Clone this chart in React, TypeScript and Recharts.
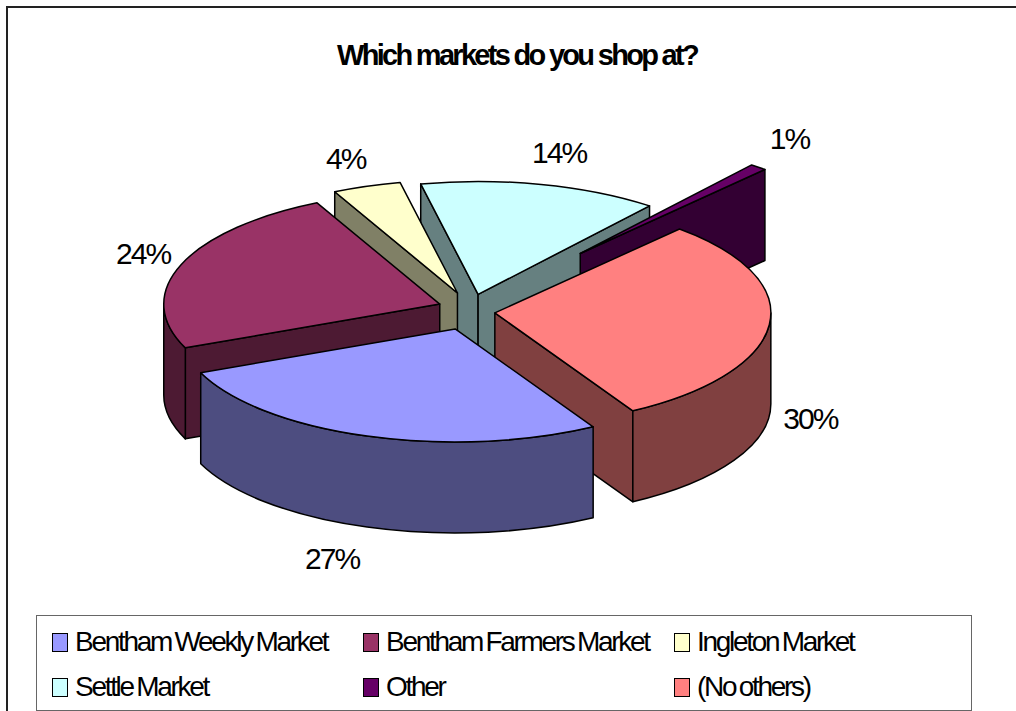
import { PieChart, Pie, Legend } from 'recharts';

const categories = ['Bentham Weekly Market', 'Bentham Farmers Market', 'Ingleton Market', 'Settle Market', 'Other', '(No others)'];
const shares = [27, 24, 4, 14, 1, 30];
const topColors = ['#9999ff', '#993366', '#ffffcc', '#ccffff', '#660066', '#ff8080'];
const wallColors = ['#4d4d80', '#4d1a33', '#808066', '#668080', '#330033', '#804040'];

// slices pulled out from the middle, along x and y of the tilted plane
const explodeX = [34, 28, 26, 53, 177, 29];
const explodeY = [20, 17, 18, 16, 74, 28];
// where each % label sits relative to the middle of its rim
const labelShiftX = [-35, -38, -21, 18, 31, 41];
const labelShiftY = [122, -11, -28, -32, -29, 94];
// back to front
const paintOrder = [3, 4, 2, 1, 5, 0];

const legendColumns = [0, 311, 622];
const FONT = '"Liberation Sans", Arial, sans-serif';

const RX = 276;
const RY = 113;
const DEPTH = 91;

const rows = categories.map((name, i) => ({ name, value: shares[i], fill: topColors[i] }));

const sliceShape = (only: number) => (props: any) => {
  const { cx, cy, startAngle, endAngle, midAngle, index, outerRadius } = props;
  if (index !== only) return <g />;
  const rx = outerRadius;
  const ry = (outerRadius * RY) / RX;
  const rad = (d: number) => (d * Math.PI) / 180;
  const s = -startAngle;
  const e = -endAngle;
  const m = -midAngle;
  const ax = cx + explodeX[index] * Math.cos(rad(m));
  const ay = cy + explodeY[index] * Math.sin(rad(m));
  const rim = (d: number, drop = 0) =>
    `${ax + rx * Math.cos(rad(d))} ${ay + ry * Math.sin(rad(d)) + drop}`;
  const arc = (from: number, to: number, sweep: number, drop = 0) =>
    `A ${rx} ${ry} 0 ${Math.abs(to - from) > 180 ? 1 : 0} ${sweep} ${rim(to, drop)}`;

  const faces: string[] = [];
  // cut faces turned towards the viewer
  if (Math.sin(rad(s - 90)) > 0) {
    faces.push(`M ${ax} ${ay} L ${rim(s)} L ${rim(s, DEPTH)} L ${ax} ${ay + DEPTH} Z`);
  }
  if (Math.sin(rad(e + 90)) > 0) {
    faces.push(`M ${ax} ${ay} L ${rim(e)} L ${rim(e, DEPTH)} L ${ax} ${ay + DEPTH} Z`);
  }
  // outer wall, front half of the ellipse only
  [0, 360].forEach((base) => {
    const lo = Math.max(s, base);
    const hi = Math.min(e, base + 180);
    if (hi > lo) {
      faces.push(`M ${rim(lo)} ${arc(lo, hi, 1)} L ${rim(hi, DEPTH)} ${arc(hi, lo, 0, DEPTH)} Z`);
    }
  });

  const labelX = ax + rx * Math.cos(rad(m)) + labelShiftX[index];
  const labelY = ay + ry * Math.sin(rad(m)) + labelShiftY[index];

  return (
    <g>
      {faces.map((d, i) => (
        <path key={i} d={d} fill={wallColors[index]} stroke="#000" strokeWidth={1.5} strokeLinejoin="round" />
      ))}
      <path
        d={`M ${ax} ${ay} L ${rim(s)} ${arc(s, e, 1)} Z`}
        fill={topColors[index]}
        stroke="#000"
        strokeWidth={1.5}
        strokeLinejoin="round"
      />
      <text
        x={labelX}
        y={labelY}
        textAnchor="middle"
        dominantBaseline="central"
        fontFamily={FONT}
        fontSize={30}
        letterSpacing={-2}
        fill="#000"
      >
        {`${shares[index]}%`}
      </text>
    </g>
  );
};

const MarketLegend = () => (
  <div style={{ position: 'relative', width: '100%', height: '100%', fontFamily: FONT, fontSize: 28, letterSpacing: -2.3, wordSpacing: -2, color: '#000' }}>
    {categories.map((name, i) => (
      <div
        key={name}
        style={{
          position: 'absolute',
          left: legendColumns[i % 3],
          top: i < 3 ? 14 : 59,
          height: 24,
          display: 'flex',
          alignItems: 'center',
          whiteSpace: 'pre',
        }}
      >
        <span
          style={{
            display: 'inline-block',
            boxSizing: 'border-box',
            width: 16,
            height: 19,
            marginLeft: 15,
            marginRight: 7,
            background: topColors[i],
            border: '1.5px solid #000',
          }}
        />
        {name}
      </div>
    ))}
  </div>
);

export default function App() {
  const slice = (i: number) => sliceShape(i);
  return (
    <div style={{ position: 'absolute', left: 0, top: 0, width: 1016, height: 711, overflow: 'hidden', background: '#fff' }}>
      <div
        style={{
          position: 'absolute',
          left: 6,
          top: 6,
          width: 1016,
          height: 720,
          boxSizing: 'border-box',
          borderLeft: '2px solid #222',
          borderTop: '2px solid #222',
        }}
      />
      <div
        style={{
          position: 'absolute',
          left: 6,
          width: 1022,
          top: 39,
          textAlign: 'center',
          fontFamily: FONT,
          fontWeight: 700,
          fontSize: 29,
          letterSpacing: -2.7,
          color: '#000',
        }}
      >
        Which markets do you shop at?
      </div>
      <PieChart width={1016} height={711} margin={{ top: 0, right: 0, bottom: 0, left: 0 }} style={{ position: 'absolute', left: 0, top: 0 }}>
        {paintOrder.map((i) => (
          <Pie
            key={i}
            data={rows}
            dataKey="value"
            nameKey="name"
            cx={466}
            cy={310}
            innerRadius={0}
            outerRadius={RX}
            startAngle={-60}
            endAngle={-420}
            stroke="none"
            isAnimationActive={false}
            shape={slice(i)}
            inactiveShape={slice(i)}
          />
        ))}
        <Legend
          content={<MarketLegend />}
          wrapperStyle={{
            position: 'absolute',
            left: 36,
            top: 615,
            bottom: 'auto',
            width: 936,
            height: 96,
            boxSizing: 'border-box',
            border: '1.5px solid #666',
          }}
        />
      </PieChart>
    </div>
  );
}
